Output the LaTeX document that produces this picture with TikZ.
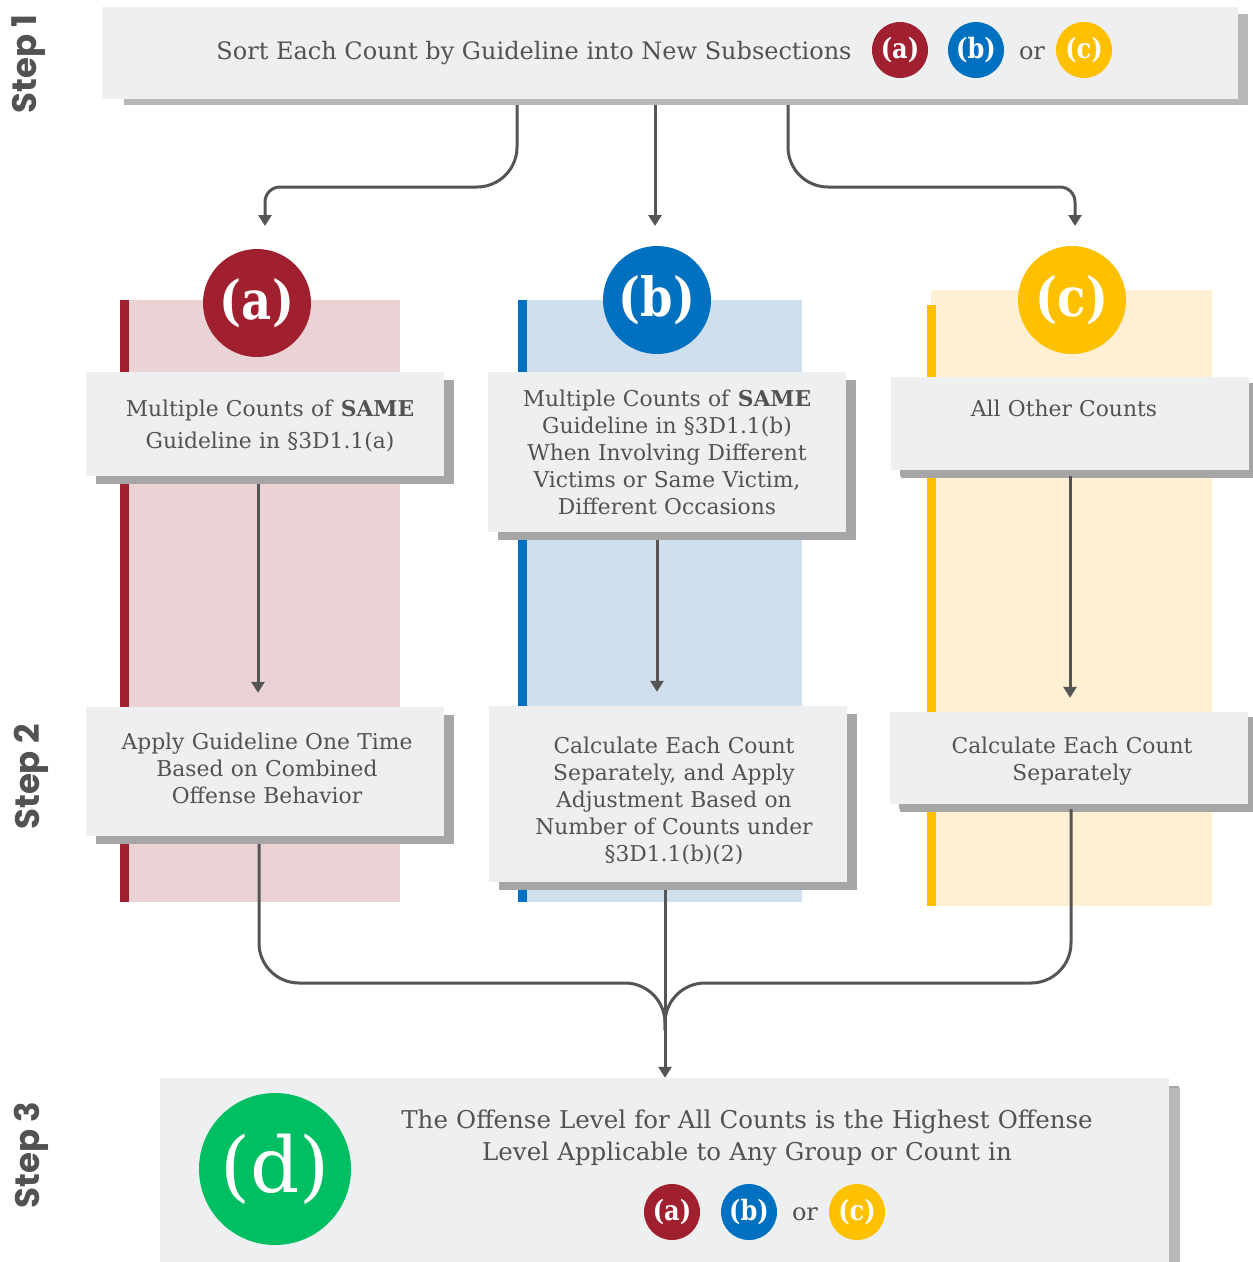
\documentclass[tikz,border=0pt]{standalone}
\usepackage{fontspec}
\setmainfont{DejaVu Serif}
\newfontfamily\condfont[FakeStretch=0.86]{DejaVu Serif}
\newfontfamily\stepfont{Poppins}
\usetikzlibrary{arrows.meta,shadows}
\definecolor{redc}{HTML}{A0202F}
\definecolor{bluec}{HTML}{0070C0}
\definecolor{yelc}{HTML}{FFC000}
\definecolor{greenc}{HTML}{00BF63}
\definecolor{pinkbg}{HTML}{EBD2D5}
\definecolor{bluebg}{HTML}{CFDFED}
\definecolor{yelbg}{HTML}{FFF0D3}
\definecolor{boxc}{HTML}{EEEFF1}
\definecolor{shadc}{HTML}{A6A6A6}
\definecolor{shadtop}{HTML}{B8B8B8}
\definecolor{txtc}{HTML}{525254}
\definecolor{linec}{HTML}{555555}
\begin{document}
\begin{tikzpicture}[x=1pt,y=-1pt,
  box/.style={rectangle, fill=boxc, inner sep=0pt, drop shadow={shadow xshift=10pt, shadow yshift=-8pt, fill=shadc, opacity=1}},
  btext/.style={text=txtc, align=center, text width=360pt, anchor=base, inner sep=0pt},
  fa/.style={font=\fontsize{21.8}{32}\selectfont},
  fb/.style={font=\fontsize{21.8}{27}\selectfont},
  arr/.style={draw=linec, line width=3pt, -{Triangle[width=13pt,length=11pt]}},
  ln/.style={draw=linec, line width=3pt},
  badge/.style={circle, minimum size=56pt, inner sep=0pt, text=white, font=\condfont\bfseries\fontsize{28}{28}\selectfont},
  bigc/.style={circle, minimum size=108pt, inner sep=0pt, text=white, font=\condfont\bfseries\fontsize{54}{54}\selectfont},
  steplbl/.style={rotate=90, text=txtc, inner sep=0pt, font=\stepfont\bfseries\fontsize{34}{34}\selectfont},
  ortext/.style={text=txtc, anchor=base, inner sep=0pt, font=\fontsize{24}{24}\selectfont}
]
\useasboundingbox (0,0) rectangle (1253,1262);
\fill[white] (0,0) rectangle (1253,1262);

% column backgrounds
\fill[pinkbg] (120,300) rectangle (400,902);
\fill[redc] (120,300) rectangle (129,902);
\fill[bluebg] (518,300) rectangle (802,902);
\fill[bluec] (518,300) rectangle (527,902);
\fill[yelbg] (931,290) rectangle (1212,906);
\fill[yelc] (927,305) rectangle (936,906);

% step labels
\node[steplbl] (s1) at (29,64) {Step 1};
\node[steplbl] (s2) at (31,777) {Step 2};
\node[steplbl] (s3) at (31,1155) {Step 3};

% top box
\fill[shadtop] (124,14) rectangle (1248,105);
\node[rectangle, fill=boxc, inner sep=0pt, minimum width=1136pt, minimum height=92pt] (top) at (670,53) {};
\node[text=txtc, anchor=base, inner sep=0pt, font=\fontsize{24}{24}\selectfont] (toptext) at (534,59) {Sort Each Count by Guideline into New Subsections};
\node[badge, fill=redc] (ta) at (900,50) {(a)};
\node[badge, fill=bluec] (tb) at (976,50) {(b)};
\node[ortext] (tor) at (1032,59) {or};
\node[badge, fill=yelc] (tc) at (1084,50) {(c)};

% circles
\node[bigc, fill=redc] (ca) at (257,303) {(a)};
\node[bigc, fill=bluec] (cb) at (657,300) {(b)};
\node[bigc, fill=yelc] (cc) at (1072,300) {(c)};

% boxes
\node[box, minimum width=358pt, minimum height=104pt] (a1) at (265,424) {};
\node[box, minimum width=358pt, minimum height=129pt] (a2) at (265,771.5) {};
\node[box, minimum width=358pt, minimum height=160pt] (b1) at (667,452) {};
\node[box, minimum width=358pt, minimum height=176pt] (b2) at (668,794) {};
\node[box, drop shadow={shadow xshift=9pt, shadow yshift=-6pt, fill=shadc, opacity=1}, minimum width=358pt, minimum height=93pt] (c1) at (1070,423.5) {};
\node[box, drop shadow={shadow xshift=9pt, shadow yshift=-5pt, fill=shadc, opacity=1}, minimum width=358pt, minimum height=92pt] (c2) at (1069,758) {};

\node[btext, fa] (a1t) at (270,416) {Multiple Counts of \textbf{SAME}\\Guideline in §3D1.1(a)};
\node[btext, fb] (b1t) at (667,406) {Multiple Counts of \textbf{SAME}\\Guideline in §3D1.1(b)\\When Involving Different\\Victims or Same Victim,\\Different Occasions};
\node[btext, fb] (c1t) at (1064,416) {All Other Counts};
\node[btext, fb] (a2t) at (267,749) {Apply Guideline One Time\\Based on Combined\\Offense Behavior};
\node[btext, fb] (b2t) at (674,753) {Calculate Each Count\\Separately, and Apply\\Adjustment Based on\\Number of Counts under\\§3D1.1(b)(2)};
\node[btext, fb] (c2t) at (1072,753) {Calculate Each Count\\Separately};

% bottom box
\node[box, drop shadow={shadow xshift=11pt, shadow yshift=-10pt, fill=shadtop, opacity=1}, minimum width=1009pt, minimum height=190pt] (d) at (664.5,1173) {};
\node[circle, minimum size=152pt, inner sep=0pt, fill=greenc, text=white, font=\fontsize{77}{77}\selectfont] (cd) at (275,1169) {(d)};
\node[text=txtc, anchor=base, align=center, text width=800pt, inner sep=0pt, font=\fontsize{24.5}{32}\selectfont] (dt) at (747,1128) {The Offense Level for All Counts is the Highest Offense\\Level Applicable to Any Group or Count in};
\node[badge, fill=redc] (da) at (672,1212) {(a)};
\node[badge, fill=bluec] (db) at (749,1212) {(b)};
\node[ortext] (dor) at (805,1220) {or};
\node[badge, fill=yelc] (dc) at (857,1212) {(c)};

% coordinates
\coordinate (xl) at (517,0);
\coordinate (xm) at (655,0);
\coordinate (xr) at (788,0);
\coordinate (tipA) at (265,226);
\coordinate (tipB) at (655,226);
\coordinate (tipC) at (1075,226);
\coordinate (xa) at (258,0);
\coordinate (xb) at (657,0);
\coordinate (xc) at (1070,0);
\coordinate (xa2) at (259,0);
\coordinate (xb2) at (665,0);
\coordinate (xc2) at (1071,0);
\coordinate (merge) at (665,1030);

% top connectors
\draw[arr] ([yshift=-6pt]xl |- top.south) [rounded corners=40pt] -- (517,187) [rounded corners=15pt] -- (265,187) [sharp corners] -- (tipA);
\draw[arr] ([yshift=-6pt]xm |- top.south) -- (tipB);
\draw[arr] ([yshift=-6pt]xr |- top.south) [rounded corners=40pt] -- (788,187) [rounded corners=15pt] -- (1075,187) [sharp corners] -- (tipC);

% column connectors
\draw[arr, shorten >=14pt] ([yshift=-8pt]xa |- a1.south) -- (xa |- a2.north);
\draw[arr, shorten >=14pt] ([yshift=-8pt]xb |- b1.south) -- (xb |- b2.north);
\draw[arr, shorten >=14pt] ([yshift=-6pt]xc |- c1.south) -- (xc |- c2.north);

% merge connectors
\draw[ln, rounded corners=40pt] ([yshift=-8pt]xa2 |- a2.south) -- (259,983) -- (665,983) -- (merge);
\draw[ln, rounded corners=40pt] ([yshift=-5pt]xc2 |- c2.south) -- (1071,983) -- (665,983) -- (merge);
\draw[arr] ([yshift=-8pt]xb2 |- b2.south) -- (xb2 |- d.north);
\end{tikzpicture}
\end{document}
